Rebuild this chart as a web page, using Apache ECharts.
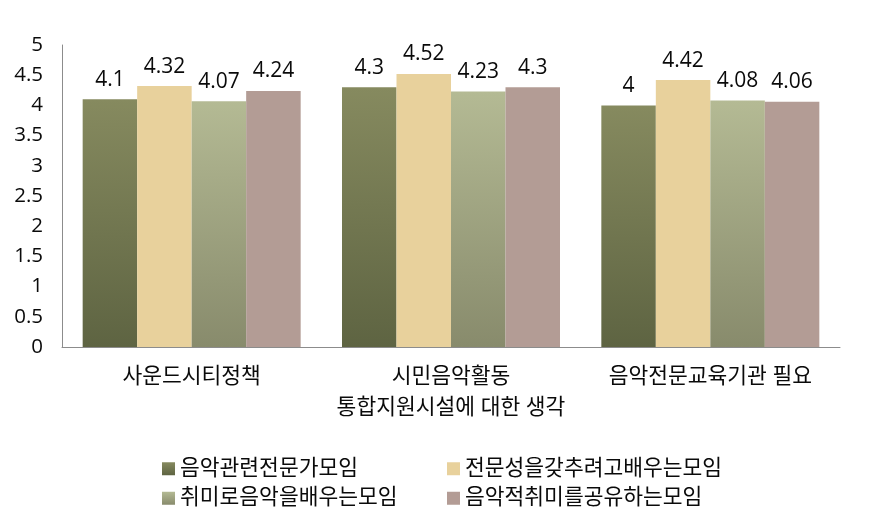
<!DOCTYPE html>
<html><head><meta charset="utf-8">
<script src="https://cdn.jsdelivr.net/npm/echarts@6/dist/echarts.min.js"></script>
<style>html,body{margin:0;padding:0;background:#fff}#c{width:878px;height:524px}</style>
</head><body><div id="c"></div>
<script>
const categories = ['사운드시티정책', '시민음악활동', '음악전문교육기관 필요'];
const seriesNames = ['음악관련전문가모임', '전문성을갖추려고배우는모임', '취미로음악을배우는모임', '음악적취미를공유하는모임'];
const s1 = [4.1, 4.3, 4];
const s2 = [4.32, 4.52, 4.42];
const s3 = [4.07, 4.23, 4.08];
const s4 = [4.24, 4.3, 4.06];
const yTicks = [0, 0.5, 1, 1.5, 2, 2.5, 3, 3.5, 4, 4.5, 5];

const font = '"Open Sans", "Noto Sans CJK KR", sans-serif';
const grad = (a, b) => new echarts.graphic.LinearGradient(0, 0, 0, 1, [{offset: 0, color: a}, {offset: 1, color: b}]);
const colors = [grad('#868a5f', '#5e6442'), '#e8d19c', grad('#b4ba94', '#888b6c'), '#b39c95'];
const data = [s1, s2, s3, s4];
const txt = '#0a0a0a';

const chart = echarts.init(document.getElementById('c'));
chart.setOption({
  animation: false,
  grid: {left: 62, right: 38, top: 45, bottom: 177},
  xAxis: {
    type: 'category', data: categories,
    axisLine: {lineStyle: {color: '#8c8c8c'}},
    axisTick: {show: false},
    axisLabel: {color: txt, fontSize: 21.5, fontFamily: font, margin: 19, interval: 0, hideOverlap: false},
    name: '통합지원시설에 대한 생각', nameLocation: 'middle', nameGap: 50,
    nameTextStyle: {color: txt, fontSize: 21.5, fontFamily: font}
  },
  yAxis: {
    type: 'value', min: 0, max: 5, interval: 0.5,
    axisLine: {show: true, lineStyle: {color: '#8c8c8c'}},
    axisTick: {show: false},
    splitLine: {show: false},
    axisLabel: {color: txt, fontSize: 20.5, fontFamily: font, margin: 19,
      formatter: v => yTicks.includes(v) ? String(v) : ''}
  },
  legend: [
    {data: [seriesNames[0], seriesNames[2]], orient: 'vertical', left: 162, top: 458, padding: 0, itemWidth: 13, itemHeight: 13, itemGap: 8,
      textStyle: {fontSize: 21.5, color: txt, fontFamily: font}, icon: 'rect'},
    {data: [seriesNames[1], seriesNames[3]], orient: 'vertical', left: 447, top: 458, padding: 0, itemWidth: 13, itemHeight: 13, itemGap: 8,
      textStyle: {fontSize: 21.5, color: txt, fontFamily: font}, icon: 'rect'}
  ],
  series: data.map((d, i) => ({
    name: seriesNames[i], type: 'bar', data: d,
    barWidth: 54.5, barGap: '0%',
    itemStyle: {color: colors[i]},
    label: {show: true, position: 'top', distance: 9, color: txt, fontSize: 21, fontFamily: font}
  }))
});
</script></body></html>
